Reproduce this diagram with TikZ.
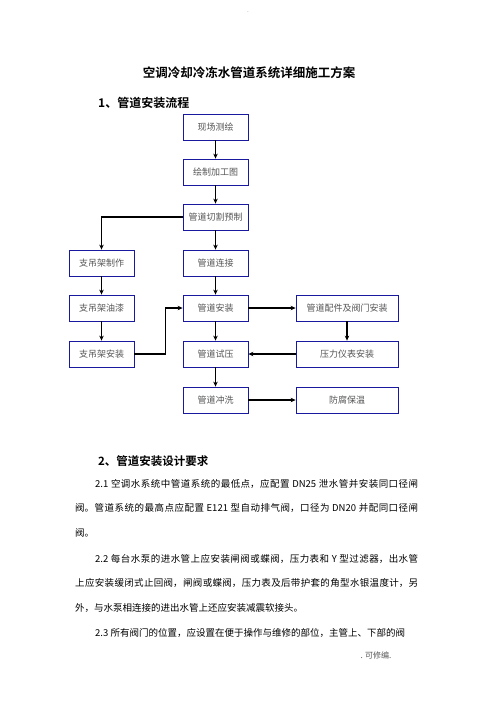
\documentclass[tikz,border=0pt]{standalone}
\usepackage{fontspec}
\setmainfont{Noto Sans CJK SC}[BoldFont={Noto Sans CJK SC Bold}]
\usetikzlibrary{arrows.meta}
\definecolor{boxblue}{RGB}{25,25,160}
\definecolor{textgray}{RGB}{85,85,85}
\XeTeXlinebreaklocale "zh"
\XeTeXlinebreakskip=0pt plus 1pt

\begin{document}
\begin{tikzpicture}[x=1pt,y=-1pt,
    box/.style={draw=boxblue, line width=0.8pt, minimum height=26pt, inner sep=0pt,
        font=\fontsize{9}{10}\selectfont, text=textgray},
    narrow/.style={box, minimum width=65pt},
    wide/.style={box, minimum width=102pt},
    arr/.style={line width=1.5pt, -{Stealth[length=5pt,width=4.5pt]}},
    head/.style={anchor=west, inner sep=0pt, font=\fontsize{12}{14}\selectfont\bfseries},
    para/.style={anchor=north west, text width=343pt, align=justify, inner sep=0pt,
        font=\fontsize{9.5}{24.5}\selectfont}]
        \fill[white] (0,0) rectangle (496,702);
        \useasboundingbox (0,0) rectangle (496,702);

        % titles
        \node[text=gray!40, font=\fontsize{8}{9}\selectfont] (dot) at (248,12) {.};
        \node[font=\fontsize{12.5}{14}\selectfont\bfseries] (title) at (249,73) {空调冷却冷冻水管道系统详细施工方案};
        \node[head] (head1) at (98,103) {1、管道安装流程};

        % flow chart
        \node[narrow] (survey) at (215.5,127) {现场测绘};
        \node[narrow] (drawing) at (215.5,172) {绘制加工图};
        \node[narrow] (cutting) at (215.5,217) {管道切割预制};
        \node[narrow] (joining) at (215.5,263) {管道连接};
        \node[narrow] (install) at (215.5,308) {管道安装};
        \node[narrow] (test) at (215.5,354) {管道试压};
        \node[narrow] (flush) at (215.5,400) {管道冲洗};

        \node[narrow] (hangmake) at (101.5,263) {支吊架制作};
        \node[narrow] (hangpaint) at (101.5,308) {支吊架油漆};
        \node[narrow] (hangfix) at (101.5,354) {支吊架安装};

        \node[wide] (valves) at (347,308) {管道配件及阀门安装};
        \node[wide] (gauges) at (347,354) {压力仪表安装};
        \node[wide] (coating) at (347,400) {防腐保温};

        \draw[arr] (survey) -- (drawing);
        \draw[arr] (drawing) -- (cutting);
        \draw[arr] (cutting) -- (joining);
        \draw[arr] (joining) -- (install);
        \draw[arr] (install) -- (test);
        \draw[arr] (test) -- (flush);
        \draw[arr] (cutting.west) -| (hangmake.north);
        \draw[arr] (hangmake) -- (hangpaint);
        \draw[arr] (hangpaint) -- (hangfix);
        \draw[arr] (hangfix.east) -- ++(31,0) |- (install.west);
        \draw[arr] (install) -- (valves);
        \draw[arr] (valves) -- (gauges);
        \draw[arr] (gauges) -- (test);
        \draw[arr] (flush) -- (coating);

        % text
        \node[head, font=\fontsize{11.5}{14}\selectfont\bfseries] (head2) at (98,461) {2、管道安装设计要求};
        \node[para] (p21) at (75,479) {\hspace*{20pt}2.1 空调水系统中管道系统的最低点，应配置 DN25 泄水管并安装同口径闸\linebreak 阀。管道系统的最高点应配置 E121 型自动排气阀，口径为 DN20 并配同口径闸\linebreak 阀。};
        \node[para] (p22) at (75,554) {\hspace*{20pt}2.2 每台水泵的进水管上应安装闸阀或蝶阀，压力表和 Y 型过滤器，出水管\linebreak 上应安装缓闭式止回阀，闸阀或蝶阀，压力表及后带护套的角型水银温度计，另\linebreak 外，与水泵相连接的进出水管上还应安装减震软接头。};
        \node[para] (p23) at (75,628) {\parfillskip=0pt\hspace*{20pt}2.3 所有阀门的位置，应设置在便于操作与维修的部位，主管上、下部的阀};

        \node[anchor=west, text=textgray, font=\fontsize{8}{9}\selectfont] (foot) at (357,655) {. 可修编.};
    \end{tikzpicture}
\end{document}
